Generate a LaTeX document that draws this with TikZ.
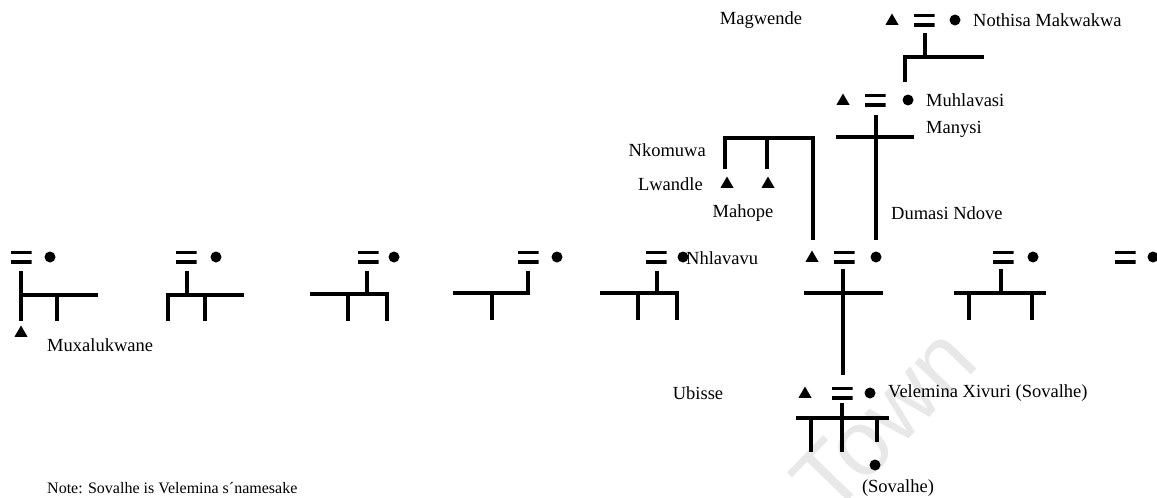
\documentclass[tikz,border=0pt]{standalone}
\usepackage{fontspec}
\setmainfont{Liberation Serif}
\newfontfamily\wmfont{Liberation Sans}
\usetikzlibrary{shapes.geometric}
\begin{document}
\begin{tikzpicture}[x=1pt,y=-1pt,
  kin/.style={line width=3.9pt,line cap=rect},
  male/.style={regular polygon,regular polygon sides=3,fill=black,minimum size=15pt,inner sep=0pt},
  female/.style={circle,fill=black,minimum size=11pt,inner sep=0pt},
  marr/.style={rectangle,minimum width=21pt,minimum height=13pt,inner sep=0pt,
    path picture={\fill (path picture bounding box.north west) rectangle ([yshift=-3.8pt]path picture bounding box.north east);
                  \fill (path picture bounding box.south west) rectangle ([yshift=3.8pt]path picture bounding box.south east);}},
  lbl/.style={font=\fontsize{18.5}{20}\selectfont,inner sep=0pt},
  notelbl/.style={font=\fontsize{16}{18}\selectfont,inner sep=0pt}]
\useasboundingbox (0,0) rectangle (1157,498);
% watermark
\node[text=black!9,font=\wmfont\fontsize{92}{92}\selectfont,rotate=46,inner sep=0pt] (wm) at (884,420) {Town};

% ---- main row couples
\node[marr] (e1) at (21,257) {};   \node[female] (f1) at (50,257) {};
\node[marr] (e2) at (186,257) {};  \node[female] (f2) at (216,257) {};
\node[marr] (e3) at (368,257) {};  \node[female] (f3) at (394,257) {};
\node[marr] (e4) at (528,257) {};  \node[female] (f4) at (557,257) {};
\node[marr] (e5) at (656,257) {};  \node[female] (f5) at (683,257) {};
\node[male] (m6) at (812,258) {};  \node[marr] (e6) at (844,257) {}; \node[female] (f6) at (876,257) {};
\node[marr] (e7) at (1003,257) {}; \node[female] (f7) at (1033,257) {};
\node[marr] (e8) at (1125,257) {}; \node[female] (f8) at (1153,257) {};
\node[lbl,anchor=west] (nhl) at (686,258) {Nhlavavu};

% group 1
\node[male] (m1) at (21,333) {};
\node[lbl,anchor=west] (mux) at (47,345) {Muxalukwane};
\draw[kin] (21,273) -- (21,319);
\draw[kin] (21,295) -- (96,295);
\draw[kin] (57,295) -- (57,319);
% group 2
\draw[kin] (187,273) -- (187,295);
\draw[kin] (168,319) -- (168,295) -- (242,295);
\draw[kin] (205,295) -- (205,319);
% group 3
\draw[kin] (367,273) -- (367,294);
\draw[kin] (312,294) -- (387,294) -- (387,319);
\draw[kin] (348,294) -- (348,319);
% group 4
\draw[kin] (528,273) -- (528,293) -- (455,293);
\draw[kin] (492,293) -- (492,318);
% group 5
\draw[kin] (657,273) -- (657,293);
\draw[kin] (602,293) -- (677,293) -- (677,318);
\draw[kin] (638,293) -- (638,318);
% group 6
\draw[kin] (843,271) -- (843,373);
\draw[kin] (806,293) -- (881,293);
% group 7
\draw[kin] (1001,271) -- (1001,293);
\draw[kin] (956,293) -- (1044,293);
\draw[kin] (969,293) -- (969,318);
\draw[kin] (1032,293) -- (1032,318);

% ---- top couple
\node[lbl] (mag) at (761,20) {Magwende};
\node[male] (mt) at (892,21) {};
\node[marr] (et) at (924,20) {};
\node[female] (ft) at (955,20) {};
\node[lbl,anchor=west] (not) at (973,20) {Nothisa Makwakwa};
\draw[kin] (925,35) -- (925,57);
\draw[kin] (905,80) -- (905,57) -- (982,57);

% ---- second couple
\node[male] (ms) at (843,101) {};
\node[marr] (es) at (875,100) {};
\node[female] (fs) at (908,100) {};
\node[lbl,anchor=west] (muh) at (926,100) {Muhlavasi};
\node[lbl,anchor=west] (man) at (926,129) {Manysi};
\draw[kin] (876,117) -- (876,238);
\draw[kin] (838,137) -- (912,137);

% ---- left sibling bracket
\draw[kin] (725,167) -- (725,138) -- (813,138) -- (813,238);
\draw[kin] (767,138) -- (767,167);
\node[male] (b1) at (727,184) {};
\node[male] (b2) at (768,184) {};
\node[lbl,anchor=east] (nko) at (706,150) {Nkomuwa};
\node[lbl,anchor=east] (lwa) at (703,184) {Lwandle};
\node[lbl] (mah) at (743,213) {Mahope};
\node[lbl,anchor=west] (dum) at (891,213) {Dumasi Ndove};

% ---- bottom couple
\node[lbl] (ubi) at (698,393) {Ubisse};
\node[male] (mb) at (805,394) {};
\node[marr] (eb) at (842,393) {};
\node[female] (fb) at (870,393) {};
\node[lbl,anchor=west] (vel) at (888,393) {Velemina Xivuri (Sovalhe)};
\draw[kin] (842,405) -- (842,450);
\draw[kin] (798,418) -- (887,418);
\draw[kin] (811,418) -- (811,450);
\draw[kin] (877,418) -- (877,440);
\node[female] (d) at (875,465) {};
\node[lbl] (sov) at (898,488) {(Sovalhe)};

% ---- note
\node[notelbl,anchor=west] (note) at (47,488) {Note: Sovalhe is Velemina s´namesake};
\end{tikzpicture}
\end{document}
